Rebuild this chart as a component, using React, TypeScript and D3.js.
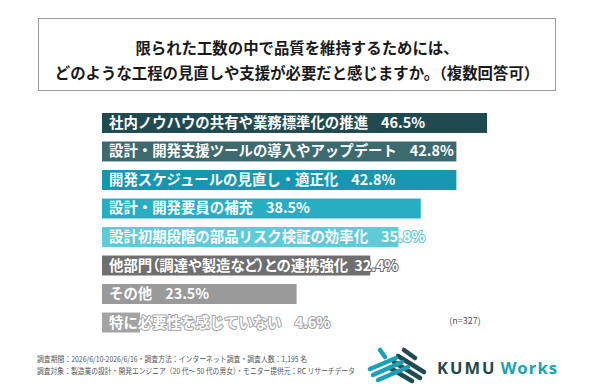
import React, { useRef, useEffect } from "react";
import * as d3 from "d3";

const categories = [
  "社内ノウハウの共有や業務標準化の推進",
  "設計・開発支援ツールの導入やアップデート",
  "開発スケジュールの見直し・適正化",
  "設計・開発要員の補充",
  "設計初期段階の部品リスク検証の効率化",
  "他部門（調達や製造など）との連携強化",
  "その他",
  "特に必要性を感じていない",
];
const values = [46.5, 42.8, 42.8, 38.5, 35.8, 32.4, 23.5, 4.6];
const barColors = [
  "#1f4a4f",
  "#3c6a6e",
  "#1796b1",
  "#27aec3",
  "#5ecbd8",
  "#6f6f6f",
  "#9a9a9a",
  "#a3a3a3",
];
const titleLines = [
  "限られた工数の中で品質を維持するためには、",
  "どのような工程の見直しや支援が必要だと感じますか。（複数回答可）",
];
const footerLines = [
  "調査期間：2026/6/10-2026/6/16・調査方法：インターネット調査・調査人数：1,195 名",
  "調査対象：製造業の設計・開発エンジニア（20 代～ 50 代の男女）・モニター提供元：RC リサーチデータ",
];
const sampleNote = "(n=327)";

const W = 590;
const H = 392;
const JP = "'Noto Sans CJK JP', 'Noto Sans', sans-serif";

function App() {
  const svgRef = useRef<SVGSVGElement>(null);

  useEffect(() => {
    const svg = d3.select(svgRef.current);
    svg.selectAll("*").remove();

    svg.append("rect").attr("width", W).attr("height", H).attr("fill", "#fff");

    // title box
    svg
      .append("rect")
      .attr("x", 38.5)
      .attr("y", 18.5)
      .attr("width", 517)
      .attr("height", 72)
      .attr("fill", "none")
      .attr("stroke", "#9a9a9a")
      .attr("stroke-width", 1);

    svg
      .selectAll(".title")
      .data(titleLines)
      .join("text")
      .attr("class", "title")
      .attr("x", 297)
      .attr("y", (d, i) => 54 + i * 25)
      .attr("text-anchor", "middle")
      .attr("font-family", JP)
      .attr("font-weight", 700)
      .attr("font-size", 15.4)
      .attr("fill", "#1a1a1a")
      .text((d) => d);

    const x = d3.scaleLinear().domain([0, 50]).range([102, 516]);
    const y = d3
      .scaleBand<number>()
      .domain(d3.range(values.length))
      .range([113, 332.5])
      .paddingInner(0.3)
      .paddingOuter(0);

    const rows = svg
      .selectAll(".row")
      .data(values)
      .join("g")
      .attr("class", "row");

    rows
      .append("rect")
      .attr("x", x(0))
      .attr("y", (d, i) => y(i)!)
      .attr("width", (d) => x(d) - x(0))
      .attr("height", y.bandwidth())
      .attr("fill", (d, i) => barColors[i]);

    // labels with parentheses are set tighter in the original
    const tight = (i: number) => categories[i].includes("（");

    const label = rows
      .append("text")
      .attr("x", x(0) + 7)
      .attr("y", (d, i) => y(i)! + y.bandwidth() / 2 + 5)
      .attr("font-family", JP)
      .attr("font-weight", 700)
      .attr("font-size", 14.4)
      .attr("fill", "#fff")
      .attr("stroke", (d, i) => barColors[i])
      .attr("stroke-width", 2)
      .attr("stroke-linejoin", "round")
      .attr("paint-order", "stroke");
    label
      .append("tspan")
      .style("font-feature-settings", (d, i) => (tight(i) ? "'palt'" : "normal"))
      .text((d, i) => categories[i]);
    label
      .append("tspan")
      .attr("dx", (d, i) => (tight(i) ? 6 : 13))
      .text((d) => d.toFixed(1) + "%");

    svg
      .append("text")
      .attr("x", 465)
      .attr("y", 324)
      .attr("text-anchor", "middle")
      .attr("font-family", JP)
      .attr("font-size", 9)
      .attr("fill", "#555")
      .text(sampleNote);

    const footerLen = [270, 318];
    svg
      .selectAll(".foot")
      .data(footerLines)
      .join("text")
      .attr("class", "foot")
      .attr("x", 37)
      .attr("y", (d, i) => 362 + i * 11.5)
      .attr("font-family", JP)
      .attr("font-size", 8)
      .attr("fill", "#555")
      .attr("textLength", (d, i) => footerLen[i])
      .attr("lengthAdjust", "spacingAndGlyphs")
      .text((d) => d);

    // logo mark
    const logo = svg.append("g").attr("transform", "translate(368,347)");
    const teal = "#1ba0b8";
    const dark = "#1f4a4f";
    const strokes: [number, number, number, number, string][] = [
      [30, 9, 56, 25, dark],
      [26, 15, 52, 31, dark],
      [36, 3, 47, 11, dark],
      [22, 21, 44, 34, dark],
      [2, 22, 28, 11, teal],
      [5, 28, 34, 15, teal],
      [10, 33, 40, 20, teal],
      [12, 3, 17, 10, teal],
    ];
    logo
      .selectAll("line")
      .data(strokes)
      .join("line")
      .attr("x1", (d) => d[0])
      .attr("y1", (d) => d[1])
      .attr("x2", (d) => d[2])
      .attr("y2", (d) => d[3])
      .attr("stroke", (d) => d[4])
      .attr("stroke-width", 4.5)
      .attr("stroke-linecap", "round");

    const brand = svg
      .append("text")
      .attr("x", 437)
      .attr("y", 374)
      .attr("font-family", "'Noto Sans', sans-serif")
      .attr("font-weight", 700)
      .attr("font-size", 16.5);
    brand
      .append("tspan")
      .attr("fill", dark)
      .attr("letter-spacing", 2)
      .text("KUMU");
    brand
      .append("tspan")
      .attr("fill", teal)
      .attr("dx", 4)
      .attr("letter-spacing", 1.2)
      .text("Works");
  }, []);

  return (
    <div style={{ position: "absolute", left: 0, top: 0 }}>
      <svg ref={svgRef} width={W} height={H} style={{ display: "block" }} />
    </div>
  );
}

export default App;
